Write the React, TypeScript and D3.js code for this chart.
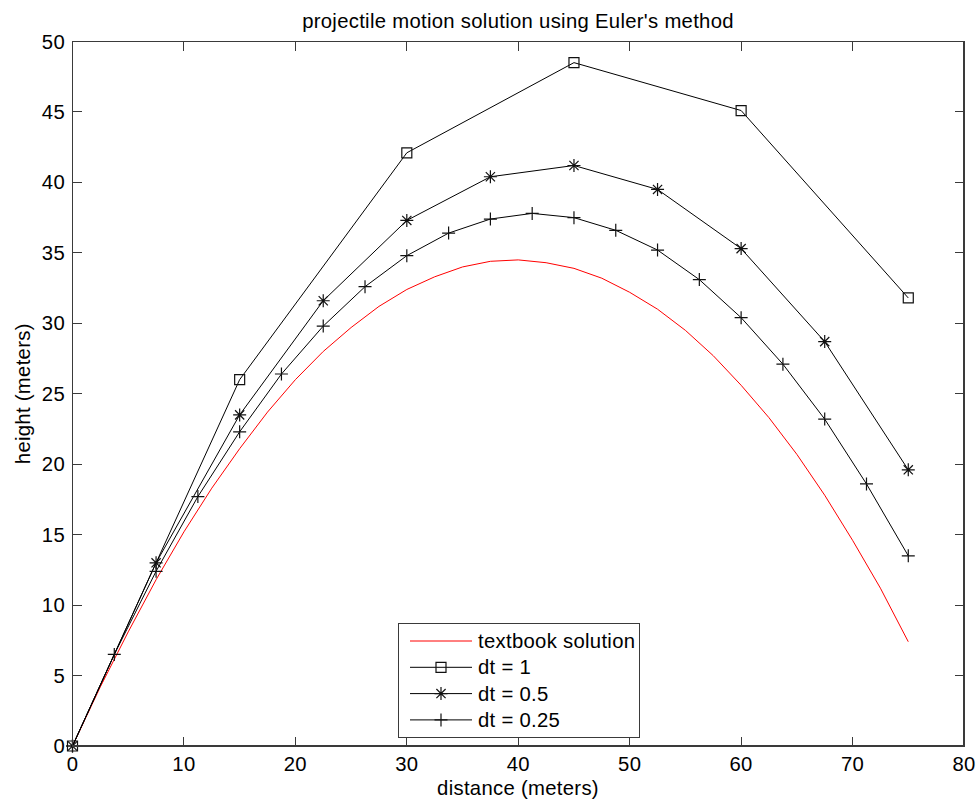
import * as d3 from "d3"

// chart values
const xTicks = [0, 10, 20, 30, 40, 50, 60, 70, 80]
const yTicks = [0, 5, 10, 15, 20, 25, 30, 35, 40, 45, 50]

const textbookX = [0, 2.5, 5, 7.5, 10, 12.5, 15, 17.5, 20, 22.5, 25, 27.5, 30, 32.5, 35, 37.5, 40, 42.5, 45, 47.5, 50, 52.5, 55, 57.5, 60, 62.5, 65, 67.5, 70, 72.5, 75]
const textbookY = [0, 4.2, 8.1, 11.8, 15.2, 18.3, 21.1, 23.7, 26.0, 28.0, 29.7, 31.2, 32.4, 33.3, 34.0, 34.4, 34.5, 34.3, 33.9, 33.2, 32.2, 31.0, 29.5, 27.7, 25.6, 23.3, 20.7, 17.8, 14.6, 11.2, 7.4]

const dt1X = [0, 15, 30, 45, 60, 75]
const dt1Y = [0, 26.0, 42.1, 48.5, 45.1, 31.8]

const dt05X = [0, 7.5, 15, 22.5, 30, 37.5, 45, 52.5, 60, 67.5, 75]
const dt05Y = [0, 13.0, 23.5, 31.6, 37.3, 40.4, 41.2, 39.5, 35.3, 28.7, 19.6]

const dt025X = [0, 3.75, 7.5, 11.25, 15, 18.75, 22.5, 26.25, 30, 33.75, 37.5, 41.25, 45, 48.75, 52.5, 56.25, 60, 63.75, 67.5, 71.25, 75]
const dt025Y = [0, 6.5, 12.4, 17.7, 22.3, 26.4, 29.8, 32.6, 34.8, 36.4, 37.4, 37.8, 37.5, 36.6, 35.2, 33.1, 30.4, 27.1, 23.2, 18.6, 13.5]

const legendLabels = ["textbook solution", "dt = 1", "dt = 0.5", "dt = 0.25"]

const W = 978
const H = 802
const box = { left: 72.5, right: 964, top: 41.5, bottom: 746 }
const font = "'Liberation Sans', Arial, Helvetica, sans-serif"
const axisColor = "#3a3a3a"
const fs = 20.3
const ls = 0.3

const x = d3.scaleLinear().domain([0, 80]).range([box.left, box.right])
const y = d3.scaleLinear().domain([0, 50]).range([box.bottom, box.top])

type Marker = "none" | "square" | "star" | "plus"

const markerPath = (m: Marker, cx: number, cy: number) => {
  const p = d3.path()
  if (m === "square") {
    p.rect(cx - 5, cy - 5, 10, 10)
  } else if (m === "plus") {
    p.moveTo(cx - 6.5, cy); p.lineTo(cx + 6.5, cy)
    p.moveTo(cx, cy - 6.5); p.lineTo(cx, cy + 6.5)
  } else if (m === "star") {
    const r = 6.5, d = 4.6
    p.moveTo(cx - r, cy); p.lineTo(cx + r, cy)
    p.moveTo(cx, cy - r); p.lineTo(cx, cy + r)
    p.moveTo(cx - d, cy - d); p.lineTo(cx + d, cy + d)
    p.moveTo(cx - d, cy + d); p.lineTo(cx + d, cy - d)
  }
  return p.toString()
}

const series: { xs: number[]; ys: number[]; color: string; marker: Marker }[] = [
  { xs: textbookX, ys: textbookY, color: "#ff0000", marker: "none" },
  { xs: dt1X, ys: dt1Y, color: "#000", marker: "square" },
  { xs: dt05X, ys: dt05Y, color: "#000", marker: "star" },
  { xs: dt025X, ys: dt025Y, color: "#000", marker: "plus" },
]

const line = d3.line<[number, number]>().x((d) => x(d[0])).y((d) => y(d[1]))

export default function App() {
  const legend = { x: 398.5, y: 623.5, w: 241, h: 114 }
  const rowY = (i: number) => 641 + i * 26.3

  return (
    <svg width={W} height={H} style={{ position: "absolute", left: 0, top: 0, background: "#fff" }} fontFamily={font} fontSize={fs} letterSpacing={ls}>
      <rect width={W} height={H} fill="#fff" />

      {/* title */}
      <text x={518} y={28} textAnchor="middle">
        projectile motion solution using Euler's method
      </text>

      {/* curves */}
      {series.map((s, i) => {
        const pts = s.xs.map((v, j) => [v, s.ys[j]] as [number, number])
        return (
          <g key={i}>
            <path d={line(pts) || ""} fill="none" stroke={s.color} strokeWidth={1} />
            {s.marker !== "none" &&
              pts.map((p, j) => (
                <path key={j} d={markerPath(s.marker, x(p[0]), y(p[1]))} fill="none" stroke="#111" strokeWidth={1.2} />
              ))}
          </g>
        )
      })}

      {/* axes box */}
      <rect x={box.left} y={box.top} width={box.right - box.left} height={box.bottom - box.top} fill="none" stroke={axisColor} strokeWidth={1.3} shapeRendering="crispEdges" />
      {xTicks.map((t) => (
        <g key={"x" + t} shapeRendering="crispEdges">
          <line x1={x(t)} x2={x(t)} y1={box.bottom} y2={box.bottom - 9} stroke={axisColor} />
          <line x1={x(t)} x2={x(t)} y1={box.top} y2={box.top + 9} stroke={axisColor} />
          <text x={x(t)} y={771} textAnchor="middle">{t}</text>
        </g>
      ))}
      {yTicks.map((t) => (
        <g key={"y" + t} shapeRendering="crispEdges">
          <line x1={box.left} x2={box.left + 9} y1={y(t)} y2={y(t)} stroke={axisColor} />
          <line x1={box.right} x2={box.right - 9} y1={y(t)} y2={y(t)} stroke={axisColor} />
          <text x={65} y={y(t) + 7} textAnchor="end">{t}</text>
        </g>
      ))}

      {/* axis labels */}
      <text x={518} y={795} textAnchor="middle">distance (meters)</text>
      <text transform={`translate(30,${(box.top + box.bottom) / 2}) rotate(-90)`} textAnchor="middle">
        height (meters)
      </text>

      {/* legend */}
      <rect x={legend.x} y={legend.y} width={legend.w} height={legend.h} fill="#fff" stroke={axisColor} strokeWidth={1.2} shapeRendering="crispEdges" />
      {series.map((s, i) => (
        <g key={"l" + i}>
          <line x1={410} x2={472} y1={rowY(i)} y2={rowY(i)} stroke={s.color} strokeWidth={1} />
          {s.marker !== "none" && <path d={markerPath(s.marker, 441, rowY(i))} fill="none" stroke="#111" strokeWidth={1.2} />}
          <text x={478} y={rowY(i) + 7}>{legendLabels[i]}</text>
        </g>
      ))}
    </svg>
  )
}
